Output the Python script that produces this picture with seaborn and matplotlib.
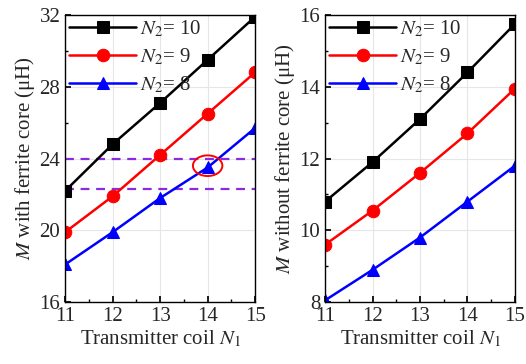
import matplotlib
matplotlib.use("Agg")
import matplotlib.pyplot as plt
import seaborn as sns
import pandas as pd
from matplotlib.patches import Ellipse
from matplotlib.ticker import MultipleLocator

N1 = [11, 12, 13, 14, 15]
with_core_10 = [22.2, 24.8, 27.1, 29.5, 31.9]
with_core_9 = [19.9, 21.9, 24.2, 26.5, 28.8]
with_core_8 = [18.1, 19.9, 21.8, 23.5, 25.7]
without_core_10 = [10.8, 11.9, 13.1, 14.4, 15.75]
without_core_9 = [9.6, 10.55, 11.6, 12.7, 13.95]
without_core_8 = [8.05, 8.9, 9.8, 10.8, 11.8]
dashed_levels = [24.0, 22.3]
labels = ["$N_2$= 10", "$N_2$= 9", "$N_2$= 8"]
colors = ["black", "red", "blue"]
markers = ["s", "o", "^"]

sns.set_theme(style="white")
plt.rcParams["font.family"] = ["Liberation Serif", "DejaVu Serif"]
plt.rcParams["mathtext.fontset"] = "stix"

fig = plt.figure(figsize=(5.26, 3.64), dpi=100)
ax1 = fig.add_axes([0.124, 0.170, 0.361, 0.789])
ax2 = fig.add_axes([0.618, 0.170, 0.361, 0.789])

def draw(ax, series, ylim, major, minor, ylabel):
    for vals, lab, c, m in zip(series, labels, colors, markers):
        df = pd.DataFrame({"x": N1, "y": vals})
        sns.lineplot(data=df, x="x", y="y", ax=ax, color=c, marker=m,
                     markersize=9, markeredgecolor=c, linewidth=1.8, label=lab)
    ax.set_xlim(11, 15)
    ax.set_ylim(*ylim)
    ax.xaxis.set_major_locator(MultipleLocator(1))
    ax.xaxis.set_minor_locator(MultipleLocator(0.5))
    ax.yaxis.set_major_locator(MultipleLocator(major))
    ax.yaxis.set_minor_locator(MultipleLocator(minor))
    ax.tick_params(which="both", direction="in", left=True, bottom=True,
                   labelsize=15, color="black")
    ax.tick_params(which="major", length=4)
    ax.tick_params(which="minor", length=2.5)
    ax.grid(True, which="major", color="#e6e6e6", linewidth=0.8)
    for s in ax.spines.values():
        s.set_color("black")
        s.set_linewidth(1.0)
    ax.set_xlabel("Transmitter coil $N_1$", fontsize=15, labelpad=2)
    ax.set_ylabel(ylabel, fontsize=15, labelpad=2)
    ax.legend(loc="upper left", bbox_to_anchor=(0.0, 1.0), borderaxespad=0.0,
              frameon=False, fontsize=15, handlelength=3.2, handletextpad=0.2,
              labelspacing=0.35, borderpad=0.2)

draw(ax1, [with_core_10, with_core_9, with_core_8], (16, 32), 4, 2,
     "$M$ with ferrite core (μH)")
draw(ax2, [without_core_10, without_core_9, without_core_8], (8, 16), 2, 1,
     "$M$ without ferrite core (μH)")

for lvl in dashed_levels:
    ax1.axhline(lvl, color="#8a2be2", linestyle=(0, (4, 3)), linewidth=1.6, zorder=1)

ax1.add_patch(Ellipse((14, 23.6), 0.62, 1.15, fill=False, edgecolor="red",
                      linewidth=1.4, zorder=5))

fig.savefig("out.png", dpi=100)
